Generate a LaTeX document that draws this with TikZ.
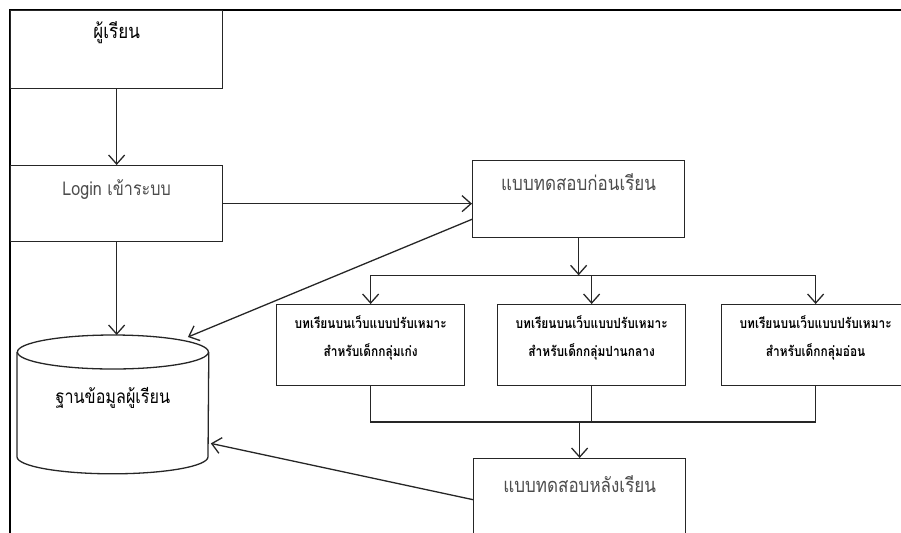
\documentclass[tikz,border=0pt]{standalone}
\usepackage{fontspec}
\newfontfamily\thaifont[Script=Thai, FakeStretch=0.85]{Loma}
\usepackage{tikz}
\usetikzlibrary{calc, arrows.meta}
\tikzset{>={Straight Barb[length=4.5pt, width=8pt]}}
\tikzset{box/.style = {draw = black!85, fill = white, line width = 0.65pt, inner sep = 0pt,
    anchor = north west, minimum width = 106pt, font = \thaifont\fontsize{10}{12}\selectfont},
  lesson/.style = {box, align = center, minimum width = 94pt, text height = 26pt, text depth = 14.5pt,
    font = \thaifont\bfseries\fontsize{7}{14}\selectfont},
  link/.style = {->, draw = black!85, line width = 0.65pt},
  wire/.style = {draw = black!85, line width = 0.65pt}}

\begin{document}
\begin{tikzpicture}[x = 0.5pt, y = -0.5pt]
\useasboundingbox (0, 0) rectangle (901, 532);
\clip (0, 0) rectangle (901, 532);
\draw[line width = 1pt] (10, 545) -- (10, 10) -- (910, 10); % outer frame

\node[box, text height = 14pt, text depth = 25pt] (learner) at (10, 10) {ผู้เรียน};
\node[box, text height = 15pt, text depth = 23pt, text = black!70,
  font = \thaifont\fontsize{9.5}{12}\selectfont] (login) at (10, 165) {Login เข้าระบบ};
\node[box, text height = 15pt, text depth = 23.5pt, text = black!70] (pretest) at (472, 160) {แบบทดสอบก่อนเรียน};

\node[lesson] (lesA) at (276, 304) {บทเรียนบนเว็บแบบปรับเหมาะ \\ สำหรับเด็กกลุ่มเก่ง};
\node[lesson] (lesB) at (497, 304) {บทเรียนบนเว็บแบบปรับเหมาะ \\ สำหรับเด็กกลุ่มปานกลาง};
\node[lesson] (lesC) at (721, 304) {บทเรียนบนเว็บแบบปรับเหมาะ \\ สำหรับเด็กกลุ่มอ่อน};

\node[box, text height = 17pt, text depth = 24pt, text = black!70] (posttest) at (473, 458) {แบบทดสอบหลังเรียน};

% database as a cylinder
\node[anchor = north west, inner sep = 0pt, minimum width = 95.5pt, text height = 34pt, text depth = 35pt,
  font = \thaifont\fontsize{9.5}{12}\selectfont] (db) at (17, 335) {ฐานข้อมูลผู้เรียน};
\draw[wire] ($(db.north)+(0, 17)$) ellipse [x radius = 47.75pt, y radius = 8.5pt];
\draw[wire] ($(db.north west)+(0, 17)$) -- ($(db.south west)+(0, -17)$)
  arc [start angle = 180, end angle = 360, x radius = 47.75pt, y radius = 8.5pt] -- ($(db.north east)+(0, 17)$);

\draw[link] (learner) -- (login);
\draw[link] (login.east) -- (pretest.west |- login.east);
\draw[link] (login) -- (login.south |- db.north);
\draw[link] ($(pretest.south west)+(0, -19)$) -- ($(db.north)+(75, 2)$);

\coordinate (split) at ($(pretest.south)+(0, 37)$);
\draw[link] (pretest) -- (split);
\draw[wire] (lesA.north |- split) -- (lesC.north |- split);
\foreach \n in {lesA, lesB, lesC}
  \draw[link] (\n.north |- split) -- (\n);

\coordinate (merge) at ($(posttest.north)+(0, -36)$);
\draw[wire] (lesA) -- (lesA.south |- merge) -- (lesC.south |- merge) -- (lesC);
\draw[wire] (lesB) -- (lesB.south |- merge);
\draw[link] (merge) -- (posttest);
\draw[link] (posttest.west) -- ($(db.east)+(2, 39)$);

\end{tikzpicture}
\end{document}
